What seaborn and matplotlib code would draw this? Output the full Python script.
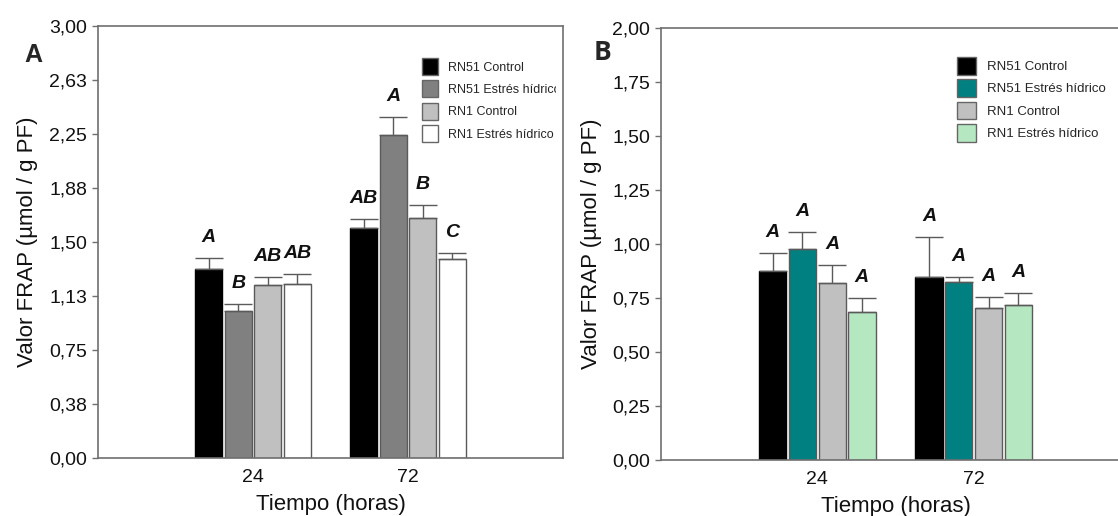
import numpy as np
import pandas as pd
import matplotlib
matplotlib.use("Agg")
import matplotlib.pyplot as plt
from matplotlib.patches import Patch
from matplotlib.transforms import Bbox
import seaborn as sns

# ---- data -------------------------------------------------------------
times = ["24", "72"]
groups = ["RN51 Control", "RN51 Estrés hídrico", "RN1 Control", "RN1 Estrés hídrico"]

# Panel A: mean FRAP per group, [24 h, 72 h]
a_mean = [[1.31, 1.60], [1.02, 2.24], [1.20, 1.67], [1.21, 1.38]]
a_err = [[0.08, 0.06], [0.05, 0.125], [0.06, 0.09], [0.07, 0.045]]
a_letters = [["A", "AB"], ["B", "A"], ["AB", "B"], ["AB", "C"]]
a_colors = ["#000000", "#808080", "#c0c0c0", "#ffffff"]
a_ticks = [0.0, 0.375, 0.75, 1.125, 1.5, 1.875, 2.25, 2.625, 3.0]
a_ticklabels = ["0,00", "0,38", "0,75", "1,13", "1,50", "1,88", "2,25", "2,63", "3,00"]

# Panel B
b_mean = [[0.877, 0.846], [0.977, 0.826], [0.820, 0.705], [0.685, 0.718]]
b_err = [[0.081, 0.186], [0.080, 0.023], [0.083, 0.050], [0.064, 0.054]]
b_letters = [["A", "A"], ["A", "A"], ["A", "A"], ["A", "A"]]
b_colors = ["#000000", "#008080", "#c0c0c0", "#b5e8c0"]
b_ticks = [0.0, 0.25, 0.5, 0.75, 1.0, 1.25, 1.5, 1.75, 2.0]
b_ticklabels = ["0,00", "0,25", "0,50", "0,75", "1,00", "1,25", "1,50", "1,75", "2,00"]

# ---- style ------------------------------------------------------------
sns.set_theme(style="white")
plt.rcParams["font.family"] = ["Liberation Sans", "DejaVu Sans"]

W, H, DPI = 1118, 516, 100
fig = plt.figure(figsize=(W / DPI, H / DPI), dpi=DPI)
fig.patch.set_facecolor("white")

SPINE = "#707070"
EDGE = "#5a5a5a"


def px_box(left, top, right, bottom):
    return [left / W, 1 - bottom / H, (right - left) / W, (bottom - top) / H]


def draw_panel(ax, mean, err, letters, colors, ticks, ticklabels, ymax,
               legend_anchor, legend_size, hl, hh, ls, tp, ylabelpad):
    df = pd.DataFrame({
        "Tiempo": [t for g in groups for t in times],
        "Grupo": [g for g in groups for _ in times],
        "FRAP": [v for row in mean for v in row],
    })
    sns.barplot(data=df, x="Tiempo", y="FRAP", hue="Grupo", order=times,
                hue_order=groups, palette=colors, width=0.76, gap=0.08,
                errorbar=None, edgecolor=EDGE, linewidth=1.0, saturation=1,
                legend=False, ax=ax)
    ax.set_xlim(-1, 2)
    ax.set_ylim(0, ymax)

    # bar geometry taken from the drawn patches
    flat_mean = np.array(mean)
    xs, tops, errs, labs = [], [], [], []
    for p in ax.patches:
        h = p.get_height()
        gi, ti = np.argwhere(np.isclose(flat_mean, h))[0]
        xs.append(p.get_x() + p.get_width() / 2)
        tops.append(h)
        errs.append(err[gi][ti])
        labs.append(letters[gi][ti])
        if colors[gi] == "#000000":
            p.set_edgecolor("#000000")
    bw = ax.patches[0].get_width()
    bw_px = ax.transData.transform((bw, 0))[0] - ax.transData.transform((0, 0))[0]
    cap = bw_px / 2 * 72 / DPI
    ax.errorbar(xs, tops, yerr=[np.zeros(len(errs)), errs], fmt="none",
                ecolor=EDGE, elinewidth=1.0, capsize=cap, capthick=1.0, zorder=1)
    for x, t, e, s in zip(xs, tops, errs, labs):
        ax.annotate(s, (x, t + e), xytext=(0, 11.5), textcoords="offset points",
                    ha="center", va="baseline", fontsize=14, fontweight="bold",
                    fontstyle="italic", color="#111111")

    ax.set_yticks(ticks)
    ax.set_yticklabels(ticklabels)
    ax.tick_params(axis="y", direction="out", length=4, width=1, color=SPINE,
                   labelsize=14, pad=4, left=True, labelcolor="#111111")
    ax.tick_params(axis="x", length=0, labelsize=14, pad=8, labelcolor="#111111")
    for sp in ax.spines.values():
        sp.set_visible(True)
        sp.set_color(SPINE)
        sp.set_linewidth(1.2)
    ax.set_xlabel("Tiempo (horas)", fontsize=16, labelpad=6, color="#111111")
    ax.set_ylabel("Valor FRAP (µmol / g PF)", fontsize=16, labelpad=ylabelpad,
                  color="#111111")

    handles = [Patch(facecolor=c, edgecolor="#666666", linewidth=1.0) for c in colors]
    return ax.legend(handles, groups, loc="upper left", bbox_to_anchor=legend_anchor,
                     bbox_transform=fig.transFigure, frameon=False, borderpad=0,
                     borderaxespad=0, handlelength=hl, handleheight=hh,
                     handletextpad=tp, labelspacing=ls,
                     prop={"family": "Liberation Sans", "size": legend_size})


ax_a = fig.add_axes(px_box(98, 26, 563, 458))
leg_a = draw_panel(ax_a, a_mean, a_err, a_letters, a_colors, a_ticks, a_ticklabels,
                   3.0, (422 / W, 1 - 58 / H), 9, 1.28, 1.715, 0.43, 0.8, 8)
# legend text box of panel A ends just short of the right spine
clip_a = Bbox.from_extents(0, 0, 556, H)
for txt in leg_a.get_texts():
    txt.set_clip_box(clip_a)
    txt.set_clip_on(True)

ax_b = fig.add_axes(px_box(661, 28, 1130, 460))
draw_panel(ax_b, b_mean, b_err, b_letters, b_colors, b_ticks, b_ticklabels, 2.0,
           (957 / W, 1 - 57 / H), 9.5, 1.44, 1.686, 0.35, 0.83, 7)

fig.text(24 / W, 1 - 62 / H, "A", fontsize=18, fontweight="bold", va="baseline")
fig.text(594 / W, 1 - 60 / H, "B", fontsize=19, fontweight="bold", va="baseline",
         family=["Open Sans", "DejaVu Sans"])

fig.savefig("out.png", dpi=DPI, facecolor="white")
